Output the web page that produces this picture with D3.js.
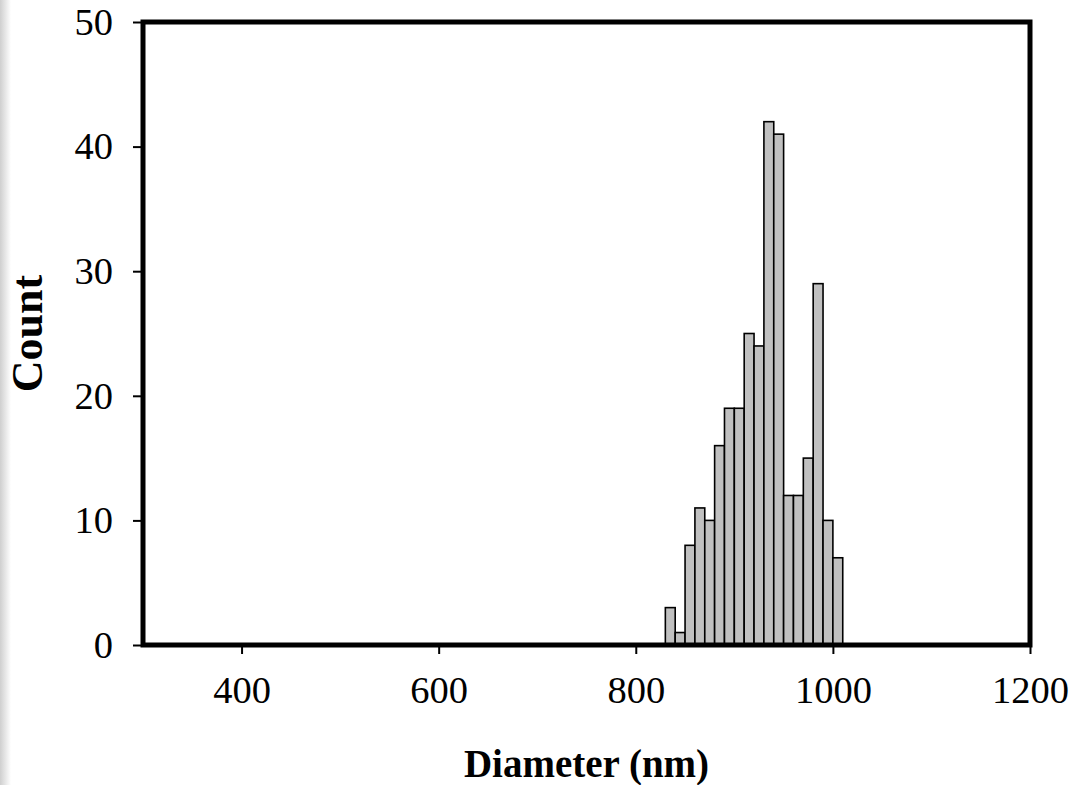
<!DOCTYPE html>
<html>
<head>
<meta charset="utf-8">
<script src="https://cdn.jsdelivr.net/npm/d3@7"></script>
<style>
  html, body { margin: 0; padding: 0; background: #fff; }
  svg { display: block; }
  text { font-family: "Liberation Serif", "Times New Roman", serif; fill: #000; }
</style>
</head>
<body>
<svg id="chart" width="1076" height="785"></svg>
<script>
// Histogram of particle diameters, 10 nm bins
const binStarts = [830, 840, 850, 860, 870, 880, 890, 900, 910, 920, 930, 940, 950, 960, 970, 980, 990, 1000];
const counts    = [3, 1, 8, 11, 10, 16, 19, 19, 25, 24, 42, 41, 12, 12, 15, 29, 10, 7];
const binWidth = 10;
const xTicks = [400, 600, 800, 1000, 1200];
const yTicks = [0, 10, 20, 30, 40, 50];

const svg = d3.select("#chart");
const margin = { left: 143, right: 46, top: 22, bottom: 140 };
const W = 1076, H = 785;

// faint grey edge strip on the left border
const defs = svg.append("defs");
const grad = defs.append("linearGradient").attr("id", "edge").attr("x1", 0).attr("x2", 1);
grad.append("stop").attr("offset", 0).attr("stop-color", "#cfcfcf");
grad.append("stop").attr("offset", 1).attr("stop-color", "#ffffff");
svg.append("rect").attr("x", 0).attr("y", 0).attr("width", 11).attr("height", H).attr("fill", "url(#edge)");

const x = d3.scaleLinear().domain([300, 1200]).range([margin.left, W - margin.right]);
const y = d3.scaleLinear().domain([0, 50]).range([H - margin.bottom, margin.top]);

// bars
svg.append("g").selectAll("rect")
  .data(binStarts.map((s, i) => ({ s, c: counts[i] })))
  .join("rect")
  .attr("x", d => x(d.s))
  .attr("width", d => x(d.s + binWidth) - x(d.s))
  .attr("y", d => y(d.c))
  .attr("height", d => y(0) - y(d.c))
  .attr("fill", "#c0c0c0")
  .attr("stroke", "#000")
  .attr("stroke-width", 1.6);

// axes
const xAxis = d3.axisBottom(x).tickValues(xTicks).tickSize(9).tickPadding(22).tickFormat(d3.format("d"));
const yAxis = d3.axisLeft(y).tickValues(yTicks).tickSize(10).tickPadding(20).tickFormat(d3.format("d"));

const gx = svg.append("g").attr("transform", `translate(0,${y(0)})`).call(xAxis);
const gy = svg.append("g").attr("transform", `translate(${x(300)},0)`).call(yAxis);
[gx, gy].forEach(g => {
  g.select(".domain").remove();
  g.selectAll(".tick line").attr("stroke", "#000").attr("stroke-width", 2);
  g.selectAll(".tick text").style("font-size", "38.5px").attr("fill", "#000");
});

// frame
svg.append("rect")
  .attr("x", x(300)).attr("y", y(50))
  .attr("width", x(1200) - x(300)).attr("height", y(0) - y(50))
  .attr("fill", "none").attr("stroke", "#000").attr("stroke-width", 5);

// axis titles
svg.append("text")
  .attr("x", (x(300) + x(1200)) / 2).attr("y", 777)
  .attr("text-anchor", "middle")
  .style("font-size", "39px").style("font-weight", "bold")
  .text("Diameter (nm)");

svg.append("text")
  .attr("transform", `translate(42,${(y(0) + y(50)) / 2}) rotate(-90)`)
  .attr("text-anchor", "middle")
  .style("font-size", "44px").style("font-weight", "bold")
  .text("Count");
</script>
</body>
</html>
